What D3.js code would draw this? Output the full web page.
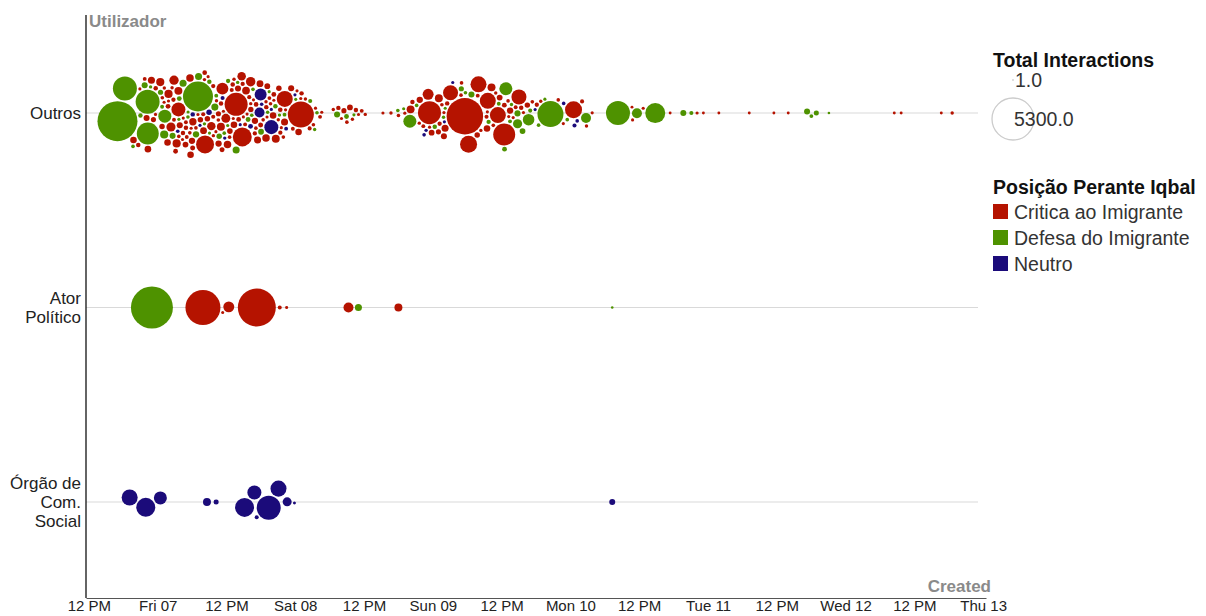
<!DOCTYPE html>
<html><head><meta charset="utf-8">
<script src="https://cdn.jsdelivr.net/npm/d3@7"></script>
<style>
body{margin:0;background:#fff;font-family:"Liberation Sans",Arial,sans-serif;}
svg text{font-family:"Liberation Sans",Arial,sans-serif;}
</style></head><body>
<svg id="chart" width="1206" height="616"></svg>
<script>
// ---------- DATA ----------
const baseTime = "2019-06-06T12:00:00"; // hours below are counted from this moment
const categories = ["Outros", "Ator Político", "Órgão de Com. Social"];
const categoryLines = [["Outros"], ["Ator", "Político"], ["Órgão de", "Com.", "Social"]];
const stances = ["Critica ao Imigrante", "Defesa do Imigrante", "Neutro"];
const stanceColors = ["#b51300", "#4e9200", "#1b0b7a"];
const sizeLegendValues = [1, 5300];
const sizeLegendLabels = ["1.0", "5300.0"];
const xAxisTitle = "Created";
const yAxisTitle = "Utilizador";

// [hours since baseTime, total interactions]
const outrosCritica = [
 [25.7,1590],[36.8,2030],[15.9,590],[20.0,970],[23.2,430],[26.9,1080],[34.0,770],
 [15.6,200],[15.3,260],[10.3,130],[13.6,200],[7.5,130],[18.5,170],[17.9,130],
 [28.1,270],[22.9,190],[24.1,240],[32.5,190],[26.5,220],[30.5,170],[33.8,150],[36.6,130],[29.5,140],
 [8.2,60],[8.9,30],[9.4,110],[9.8,45],[10.6,80],[11.1,150],[11.4,30],[11.9,60],[12.2,200],[12.6,40],
 [12.9,90],[13.3,30],[13.6,130],[14.1,55],[14.4,250],[14.7,35],[15.2,70],[15.5,110],[15.8,40],[16.2,190],
 [16.5,60],[16.9,30],[17.1,100],[17.5,45],[17.9,160],[18.3,30],[18.6,75],[18.9,120],[19.4,40],[19.8,65],
 [20.2,140],[20.5,30],[20.9,90],[21.3,50],[21.6,210],[22.0,35],[22.4,80],[22.7,120],[23.1,40],[23.5,60],
 [23.8,170],[24.2,30],[24.6,95],[25.0,50],[25.3,130],[25.7,35],[26.1,70],[26.5,110],[26.8,45],[27.2,180],
 [27.6,30],[27.9,85],[28.3,55],[28.7,120],[29.1,40],[29.5,75],[29.8,150],[30.2,35],[30.6,60],[31.0,100],
 [31.3,40],[31.7,70],[32.1,130],[32.5,30],[32.9,55],[33.3,90],[33.7,40],[34.2,65],[34.6,30],[35.1,110],
 [35.7,45],[36.3,30],[37.0,60],[37.8,35],[38.6,50],[39.5,30],[40.3,45],
 [12.4,35],[13.9,70],[15.0,45],[16.0,30],[17.3,60],[18.0,40],[19.1,90],[20.0,35],[21.0,55],[22.2,30],
 [23.3,75],[24.4,40],[25.5,60],[26.3,30],[27.4,50],[28.5,35],[29.3,65],[30.4,30],[31.5,45],[32.7,35],
 [14.2,30],[16.7,45],[18.8,30],[20.7,50],[22.9,35],[24.9,30],[26.9,55],[28.9,30],[30.9,40],[33.0,30],
 [37.2,30],[38.8,40],[40.6,30],[42.8,35],[43.5,60],[44.0,30],[44.6,80],[45.0,40],[45.5,100],[46.0,35],
 [46.5,60],[47.0,30],[47.6,45],[48.2,35],[51.3,30],[52.7,35],
 [59.5,1590],[65.6,4000],[63.2,680],[66.5,870],[69.6,770],[71.2,770],[74.9,680],[72.4,1450],[68.2,770],
 [56.4,190],[61.3,190],[69.5,190],[59.0,360],[61.8,110],
 [54.0,40],[55.2,30],[56.5,60],[57.3,35],[58.1,120],[58.8,45],[59.9,30],[60.6,80],[61.4,40],[62.2,150],
 [62.9,30],[63.5,60],[64.3,40],[66.8,90],[67.5,35],[68.3,130],[69.0,50],[69.8,30],[70.6,100],[71.3,40],
 [72.1,70],[72.8,30],[73.6,120],[74.3,45],[75.1,60],[75.8,30],[76.6,90],[77.4,40],[78.2,55],[79.0,35],
 [81.8,40],[82.6,30],[85.9,50],[86.8,35],[87.8,30],[60.0,100],[65.0,40],[70.0,35],[74.0,30],[61.0,55],
 [68.8,45],[73.0,40],
 [84.6,870],
 [94.9,30],[96.7,30],[94.8,25],[101.4,25],[106.1,30],[107.2,25],[109.9,25],[115.2,25],[119.5,25],
 [122.0,25],[140.5,25],[141.7,25],[148.7,25],[150.6,35]
];
const outrosDefesa = [
 [5.1,4800],[6.3,1730],[10.3,1450],[10.4,1730],[13.8,508],[19.0,2700],
 [14.1,200],[15.9,150],[9.8,110],[21.8,150],
 [7.8,40],[9.1,60],[10.9,35],[12.0,80],[13.2,45],[14.5,110],[15.3,30],[16.4,70],[17.7,40],[18.4,120],
 [19.6,35],[20.3,60],[21.4,30],[22.5,90],[23.6,40],[24.7,55],[25.9,150],[26.6,35],[27.7,70],[28.8,40],
 [29.9,100],[31.1,30],[32.3,60],[33.5,35],[34.8,45],[36.0,30],[17.0,30],[21.8,45],[25.1,30],[28.0,40],
 [30.7,35],[19.0,150],
 [39.1,35],[39.8,40],[43.3,110],[44.9,70],[46.3,30],[53.9,40],[38.3,50],[55.0,30],
 [56.1,510],[72.6,510],[76.4,400],[75.0,250],[74.7,110],
 [57.0,40],[60.3,60],[62.5,35],[64.8,80],[66.0,40],[67.8,110],[71.0,45],[72.5,70],[74.8,35],[75.5,100],
 [76.9,50],[78.6,40],[79.5,30],[83.5,40],[63.0,30],[69.3,55],[73.3,45],
 [80.5,2030],[86.6,300],[92.3,1730],[95.6,300],[98.8,1200],
 [103.7,108],[105.1,50],[125.3,108],[126.0,45],[126.9,75],[129.1,20]
];
const outrosNeutro = [
 [29.3,300],[31.9,590],[29.7,430],
 [15.6,40],[17.6,60],[19.3,30],[20.6,90],[22.8,35],[24.0,50],[26.2,30],[28.1,70],[29.6,40],[31.8,30],
 [33.9,45],[35.4,30],
 [58.6,40],[62.6,30],[59.0,35],[63.4,30],[78.2,30],[84.8,50],[85.0,40],[83.0,40]
];
const atorCritica = [
 [19.9,3680],[24.4,360],[29.3,4340],[23.4,27],[33.3,48],[34.5,27],[45.3,300],[54.0,190]
];
const atorDefesa = [
 [11.0,5300],[47.0,150],[91.3,20]
];
const orgaoNeutro = [
 [7.2,770],[9.9,1080],[12.4,510],[20.6,190],[22.2,75],[27.2,1080],[28.8,590],[29.5,48],
 [33.0,770],[31.4,1730],[34.6,245],[35.8,27],[91.3,108]
];

// ---------- BUILD ----------
const series = [
 {cat: 0, stance: 0, rows: outrosCritica},
 {cat: 0, stance: 1, rows: outrosDefesa},
 {cat: 0, stance: 2, rows: outrosNeutro},
 {cat: 1, stance: 0, rows: atorCritica},
 {cat: 1, stance: 1, rows: atorDefesa},
 {cat: 2, stance: 2, rows: orgaoNeutro}
];
const t0 = new Date(baseTime);
const hourToDate = h => new Date(t0.getTime() + h * 3600000);

const nodes = [];
series.forEach(s => s.rows.forEach(r => nodes.push({
  cat: categories[s.cat], stance: stances[s.stance], date: hourToDate(r[0]), value: r[1]
})));

const svg = d3.select("#chart");
const plotLeft = 86, plotRight = 986, gridRight = 978, plotTop = 15, plotBottom = 598;

const x = d3.scaleTime().domain([hourToDate(-0.5), hourToDate(156.5)]).range([plotLeft, plotRight]);
const y = d3.scalePoint().domain(categories).range([113, 502]);
const r = d3.scaleSqrt().domain([0, 5300]).range([0, 21]);
const color = d3.scaleOrdinal().domain(stances).range(stanceColors);

// gridlines
svg.append("g").selectAll("line").data(categories).join("line")
  .attr("x1", plotLeft).attr("x2", gridRight)
  .attr("y1", d => y(d)).attr("y2", d => y(d))
  .attr("stroke", "#d9d9d9").attr("stroke-width", 1.2);

// force beeswarm
nodes.forEach((d, i) => {
  d.r = r(d.value);
  d.x = x(d.date);
  d.y = y(d.cat) + ((i % 2) ? 1 : -1) * (i % 5) * 0.5;
});
const sim = d3.forceSimulation(nodes)
  .force("x", d3.forceX(d => x(d.date)).strength(0.9))
  .force("y", d3.forceY(d => y(d.cat)).strength(0.06))
  .force("collide", d3.forceCollide(d => d.r + 0.7).iterations(4))
  .stop();
for (let i = 0; i < 500; i++) sim.tick();

svg.append("g").selectAll("circle")
  .data(nodes.slice().sort((a, b) => b.value - a.value))
  .join("circle")
  .attr("cx", d => d.x).attr("cy", d => d.y).attr("r", d => d.r)
  .attr("fill", d => color(d.stance));

// x axis
const fmt = d => d.getHours() === 12 ? "12 PM" : d3.timeFormat("%a %d")(d);
const xAxis = svg.append("g").attr("transform", `translate(0,${plotBottom})`)
  .call(d3.axisBottom(x).ticks(d3.timeHour.every(12)).tickFormat(fmt).tickSize(0).tickPadding(2));
xAxis.select(".domain").attr("stroke", "#555").attr("stroke-width", 1.2);
xAxis.selectAll("text").attr("font-size", 15).attr("fill", "#222");

// y axis line
svg.append("line").attr("x1", plotLeft).attr("x2", plotLeft)
  .attr("y1", plotTop).attr("y2", plotBottom).attr("stroke", "#111").attr("stroke-width", 1.3);

// y labels
const yl = svg.append("g").selectAll("text").data(categories).join("text")
  .attr("text-anchor", "end").attr("font-size", 17).attr("fill", "#222");
yl.each(function(c, i) {
  const lines = categoryLines[i];
  const n = lines.length;
  d3.select(this).selectAll("tspan").data(lines).join("tspan")
    .attr("x", 81)
    .attr("y", (l, j) => y(c) + (j - (n - 1) / 2) * 19 + 6)
    .text(l => l);
});

// axis titles
svg.append("text").attr("x", 89).attr("y", 27).attr("font-size", 17).attr("font-weight", "bold")
  .attr("fill", "#8a8a8a").text(yAxisTitle);
svg.append("text").attr("x", 991).attr("y", 592).attr("text-anchor", "end").attr("font-size", 17)
  .attr("font-weight", "bold").attr("fill", "#8a8a8a").text(xAxisTitle);

// size legend
const lg = svg.append("g");
lg.append("text").attr("x", 993).attr("y", 67).attr("font-size", 19.5).attr("font-weight", "bold")
  .attr("fill", "#111").text("Total Interactions");
const sizeY = [80, 119];
lg.selectAll("circle.sz").data(sizeLegendValues).join("circle")
  .attr("cx", 1013).attr("cy", (d, i) => sizeY[i]).attr("r", d => r(d))
  .attr("fill", "none").attr("stroke", "#ccc").attr("stroke-width", 1.3);
lg.selectAll("text.sz").data(sizeLegendLabels).join("text")
  .attr("x", (d, i) => i ? 1014 : 1015).attr("y", (d, i) => sizeY[i] + 7)
  .attr("font-size", 19.5).attr("fill", "#333").text(d => d);

// color legend
lg.append("text").attr("x", 993).attr("y", 194).attr("font-size", 19.5).attr("font-weight", "bold")
  .attr("fill", "#111").text("Posição Perante Iqbal");
const items = lg.selectAll("g.it").data(stances).join("g")
  .attr("transform", (d, i) => `translate(993,${204 + i * 26})`);
items.append("rect").attr("width", 15).attr("height", 15).attr("fill", d => color(d));
items.append("text").attr("x", 21).attr("y", 14.5).attr("font-size", 19.5).attr("fill", "#333").text(d => d);
</script>
</body></html>
